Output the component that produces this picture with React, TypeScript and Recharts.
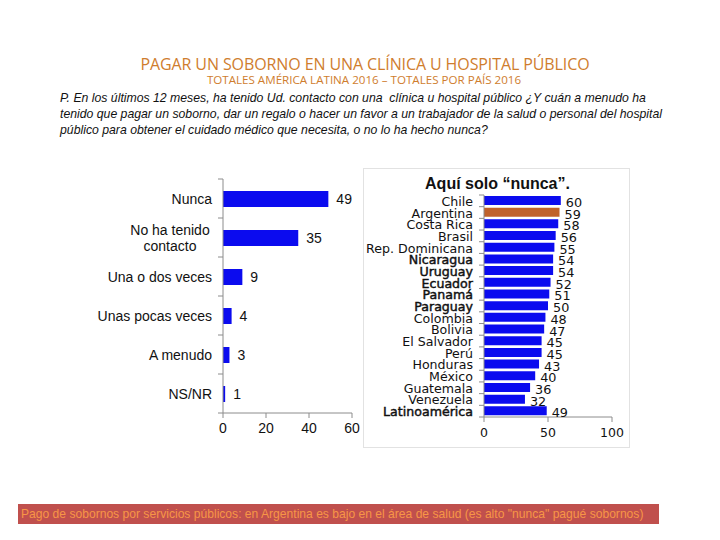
import React from "react";
import { BarChart, Bar, XAxis, YAxis, LabelList, Cell } from "recharts";

const FONT = "'Liberation Sans', Arial, sans-serif";
const WIDE = "'DejaVu Sans', sans-serif";

// totales América Latina
const freqNames = ["Nunca", "No ha tenido\ncontacto", "Una o dos veces", "Unas pocas veces", "A menudo", "NS/NR"];
const freqValues = [49, 35, 9, 4, 3, 1];
const freqTicks = [0, 20, 40, 60];

// solo "nunca", por país
const countries = [
  "Chile", "Argentina", "Costa Rica", "Brasil", "Rep. Dominicana", "Nicaragua", "Uruguay",
  "Ecuador", "Panamá", "Paraguay", "Colombia", "Bolivia", "El Salvador", "Perú",
  "Honduras", "México", "Guatemala", "Venezuela", "Latinoamérica",
];
const nuncaValues = [60, 59, 58, 56, 55, 54, 54, 52, 51, 50, 48, 47, 45, 45, 43, 40, 36, 32, 49];
const boldCountries = ["Nicaragua", "Uruguay", "Ecuador", "Panamá", "Paraguay", "Latinoamérica"];
const highlight = "Argentina";
const countryTicks = [0, 50, 100];

const freqData = freqNames.map((name, i) => ({ name, value: freqValues[i] }));
const countryData = countries.map((name, i) => ({ name, value: nuncaValues[i] }));

const BLUE = "#0b0bef";
const BROWN = "#c0622b";
const AXIS = "#8c8c8c";

function makeTick(band: number, count: number, fontSize: number, gap: number, family: string, boldList: string[] = []) {
  return function CatTick(props: any) {
    const { x, y, payload, index } = props;
    const lines = String(payload.value).split("\n");
    const bold = boldList.includes(payload.value);
    const lh = fontSize + 2;
    const multi = lines.length > 1;
    const maxLen = Math.max(...lines.map((l) => l.length));
    const tx = multi ? x - gap - (maxLen * fontSize * 0.5) / 2 : x - gap;
    return (
      <g>
        <line x1={x - 5} x2={x} y1={y - band / 2} y2={y - band / 2} stroke={AXIS} />
        {index === count - 1 && <line x1={x - 5} x2={x} y1={y + band / 2} y2={y + band / 2} stroke={AXIS} />}
        <text
          x={tx}
          y={y - ((lines.length - 1) * lh) / 2}
          textAnchor={multi ? "middle" : "end"}
          dominantBaseline="central"
          fontFamily={family}
          fontSize={fontSize}
          fill="#111"
          stroke={bold ? "#111" : "none"}
          strokeWidth={bold ? 0.45 : 0}
        >
          {lines.map((l, i) => (
            <tspan key={i} x={tx} dy={i === 0 ? 0 : lh}>
              {l}
            </tspan>
          ))}
        </text>
      </g>
    );
  };
}

function ValueLabel(props: any) {
  const { x, y, width, height, value } = props;
  return (
    <text x={x + width + 5} y={y + height / 2 + 2} dominantBaseline="central" fontFamily={WIDE} fontSize={12.8} fill="#111">
      {value}
    </text>
  );
}

export default function App() {
  const leftH = 280;
  const leftTop = 9;
  const leftAxisH = 37;
  const leftBand = (leftH - leftTop - leftAxisH) / freqNames.length;

  const rightH = 280;
  const rightTop = 27;
  const rightAxisH = 31;
  const rightBand = (rightH - rightTop - rightAxisH) / countries.length;

  const tickStyle = { fill: "#111", fontSize: 14, fontFamily: FONT };
  const rightTickStyle = { fill: "#111", fontSize: 12.5, fontFamily: WIDE };

  return (
    <div style={{ position: "absolute", left: 0, top: 0, width: 720, height: 540, background: "#fff", fontFamily: FONT }}>
      <div style={{ position: "absolute", left: 5, width: 720, top: 53, textAlign: "center", color: "#cf7d2e", fontSize: 16, fontFamily: "'Open Sans', sans-serif", letterSpacing: -0.1 }}>
        PAGAR UN SOBORNO EN UNA CLÍNICA U HOSPITAL PÚBLICO
      </div>
      <div style={{ position: "absolute", left: 4, width: 720, top: 72, textAlign: "center", color: "#cf7d2e", fontSize: 11.6, fontFamily: "'Open Sans', sans-serif" }}>
        TOTALES AMÉRICA LATINA 2016 – TOTALES POR PAÍS 2016
      </div>
      <div style={{ position: "absolute", left: 60, top: 90, fontSize: 12.25, lineHeight: "16px", fontStyle: "italic", color: "#111", whiteSpace: "pre" }}>
        {"P. En los últimos 12 meses, ha tenido Ud. contacto con una  clínica u hospital público ¿Y cuán a menudo ha\ntenido que pagar un soborno, dar un regalo o hacer un favor a un trabajador de la salud o personal del hospital\npúblico para obtener el cuidado médico que necesita, o no lo ha hecho nunca?"}
      </div>

      <div style={{ position: "absolute", left: 80, top: 170 }}>
        <BarChart width={300} height={leftH} data={freqData} layout="vertical" margin={{ top: leftTop, right: 28, bottom: 0, left: 0 }} barSize={16}>
          <XAxis type="number" domain={[0, 60]} ticks={freqTicks} height={leftAxisH} stroke={AXIS} tickSize={5} tickMargin={5} tick={tickStyle} />
          <YAxis
            type="category"
            dataKey="name"
            width={143}
            stroke={AXIS}
            tickLine={false}
            tickSize={0}
            tickMargin={0}
            interval={0}
            tick={makeTick(leftBand, freqNames.length, 14, 11, FONT)}
          />
          <Bar dataKey="value" fill={BLUE} isAnimationActive={false}>
            <LabelList dataKey="value" position="right" offset={8} fill="#111" fontSize={14} fontFamily={FONT} />
          </Bar>
        </BarChart>
      </div>

      <div style={{ position: "absolute", left: 363, top: 168, width: 267, height: rightH, border: "1px solid #e2e2e2", boxSizing: "border-box" }} />
      <div style={{ position: "absolute", left: 420, width: 155, top: 175, textAlign: "center", fontWeight: "bold", fontSize: 16, color: "#111" }}>
        Aquí solo “nunca”.
      </div>
      <div style={{ position: "absolute", left: 363, top: 168 }}>
        <BarChart width={267} height={rightH} data={countryData} layout="vertical" margin={{ top: rightTop, right: 18, bottom: 0, left: 0 }} barSize={9}>
          <XAxis type="number" domain={[0, 100]} ticks={countryTicks} height={rightAxisH} stroke={AXIS} tickSize={5} tickMargin={6} tick={rightTickStyle} />
          <YAxis
            type="category"
            dataKey="name"
            width={121}
            stroke={AXIS}
            tickLine={false}
            tickSize={0}
            tickMargin={0}
            interval={0}
            tick={makeTick(rightBand, countries.length, 12.6, 11, WIDE, boldCountries)}
          />
          <Bar dataKey="value" isAnimationActive={false}>
            {countryData.map((d) => (
              <Cell key={d.name} fill={d.name === highlight ? BROWN : BLUE} />
            ))}
            <LabelList dataKey="value" content={<ValueLabel />} />
          </Bar>
        </BarChart>
      </div>

      <div style={{ position: "absolute", left: 18, top: 504, width: 641, height: 20, background: "#c0504d", color: "#f79646", fontSize: 12.1, lineHeight: "20px", paddingLeft: 3, boxSizing: "border-box", whiteSpace: "nowrap", overflow: "hidden" }}>
        Pago de sobornos por servicios públicos: en Argentina es bajo en el área de salud (es alto "nunca" pagué sobornos)
      </div>
    </div>
  );
}
